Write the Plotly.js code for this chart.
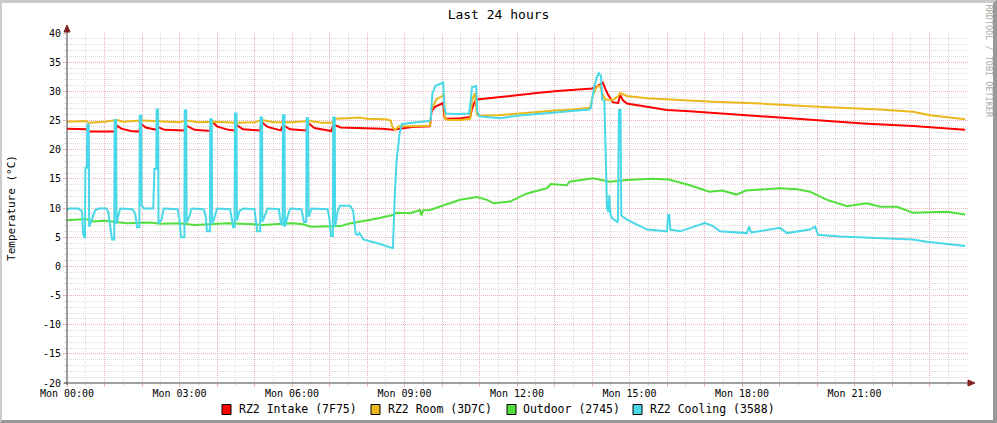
<!DOCTYPE html>
<html><head><meta charset="utf-8">
<script src="https://cdn.plot.ly/plotly-3.0.1.min.js"></script>
<style>
html,body{margin:0;padding:0;background:#fff;}
#wrap{position:relative;width:997px;height:423px;overflow:hidden;}
#chart{position:absolute;left:0;top:0;width:997px;height:423px;}
#frame{position:absolute;left:0;top:0;width:997px;height:423px;box-sizing:border-box;border-top:3px solid #cbcbcb;border-left:2px solid #cbcbcb;border-right:4px solid #999999;border-bottom:3px solid #999999;pointer-events:none;}
</style></head>
<body><div id="wrap"><div id="chart"></div><div id="frame"></div></div>
<script>
// ---------- data (time in hours since Mon 00:00, values in °C) ----------
const seriesNames = ['RZ2 Intake (7F75)', 'RZ2 Room (3D7C)', 'Outdoor (2745)', 'RZ2 Cooling (3588)'];
const seriesColors = ['#FF0000', '#EBB81C', '#52DE3C', '#48D8E8'];

const intakeT = [0.00,0.30,0.52,0.56,1.00,1.30,1.33,1.45,1.70,1.93,1.96,2.10,2.38,2.41,2.60,3.13,3.16,3.40,3.82,3.85,4.00,4.30,4.47,4.50,4.70,5.15,5.18,5.35,5.70,5.76,5.95,6.38,6.42,6.60,7.05,7.10,7.30,7.80,8.40,8.69,8.80,9.20,9.68,9.72,9.80,9.95,10.03,10.07,10.12,10.50,10.75,10.80,10.88,10.93,11.20,11.55,12.00,12.53,13.00,13.33,13.70,14.00,14.15,14.29,14.35,14.43,14.56,14.70,14.75,14.82,14.93,15.47,16.00,16.60,17.23,18.40,19.89,21.23,22.56,23.28,23.95];
const intakeV = [23.6,23.5,23.5,23.1,23.1,23.1,24.1,23.6,23.2,23.1,24.5,23.8,23.4,23.9,23.4,23.3,24.2,23.4,23.2,24.9,24.0,23.4,23.3,24.3,23.5,23.3,24.8,23.9,23.3,24.2,23.5,23.3,24.6,23.7,23.2,24.3,23.8,23.7,23.6,23.4,23.5,23.9,24.0,26.5,27.3,27.8,28.0,25.5,25.3,25.4,25.6,27.0,28.3,28.6,28.8,29.0,29.3,29.7,30.0,30.2,30.3,30.5,30.9,31.5,30.5,29.4,28.1,28.0,29.4,28.5,27.9,27.4,26.8,26.6,26.3,25.8,25.1,24.5,24.05,23.65,23.4];

const roomT = [0.00,0.50,0.60,1.00,1.33,1.50,2.00,2.50,3.00,3.17,3.50,4.00,4.50,5.00,5.20,5.50,6.00,6.45,6.80,7.10,7.15,7.50,7.80,8.00,8.50,8.63,8.68,8.75,8.85,9.20,9.68,9.72,9.85,10.00,10.05,10.08,10.15,10.50,10.75,10.80,10.88,10.93,10.98,11.50,12.00,12.50,13.00,13.50,13.95,14.03,14.13,14.21,14.28,14.35,14.56,14.70,14.75,14.93,15.47,16.08,17.23,18.50,19.89,21.68,22.56,23.01,23.50,23.95];
const roomV = [24.8,24.9,24.6,24.8,25.1,24.8,25.0,24.8,24.7,25.0,24.7,24.8,24.6,24.7,25.1,24.7,24.7,24.9,24.6,24.6,25.3,25.4,25.5,25.3,25.2,25.0,23.9,23.4,24.0,24.0,24.1,27.0,28.6,29.2,29.4,25.3,25.1,25.1,25.3,28.5,29.7,26.0,25.8,25.9,26.2,26.5,26.7,26.9,27.2,29.5,30.8,31.0,29.5,28.6,28.5,29.2,29.7,29.2,28.8,28.6,28.2,27.9,27.4,26.9,26.5,25.9,25.6,25.2];

const outdoorT = [0.00,0.50,0.70,1.00,1.60,2.20,2.50,3.00,3.40,4.00,4.30,5.00,5.20,6.00,6.30,6.50,7.00,7.30,7.50,7.80,8.27,8.69,8.80,9.15,9.41,9.45,9.50,9.68,9.95,10.48,10.93,11.20,11.38,11.81,12.27,12.80,12.90,13.33,13.40,14.03,14.48,14.93,15.60,16.05,16.61,17.13,17.47,17.85,18.11,19.01,19.47,19.81,20.27,20.80,21.33,21.68,22.13,22.56,23.47,23.95];
const outdoorV = [7.9,8.1,7.7,7.8,7.4,7.5,7.3,7.4,7.1,7.3,7.4,7.2,7.1,7.4,7.2,6.8,6.8,6.9,7.3,7.6,8.2,8.8,9.2,9.1,9.65,8.75,9.6,9.65,10.2,11.4,11.9,11.4,10.8,11.1,12.5,13.4,14.1,13.9,14.5,15.1,14.5,14.8,15.0,14.9,13.9,12.8,13.0,12.3,13.0,13.4,13.2,12.8,11.4,10.3,10.8,10.2,10.2,9.2,9.35,8.9];

const coolingT = [0.00,0.05,0.30,0.40,0.43,0.46,0.48,0.49,0.53,0.54,0.58,0.59,0.66,0.75,0.85,1.05,1.10,1.15,1.20,1.26,1.27,1.31,1.32,1.36,1.42,1.75,1.82,1.87,1.93,1.94,1.98,1.99,2.05,2.30,2.33,2.38,2.39,2.43,2.44,2.52,2.58,2.95,3.00,3.04,3.13,3.14,3.18,3.19,3.26,3.32,3.65,3.70,3.73,3.81,3.82,3.86,3.87,3.94,4.00,4.35,4.40,4.43,4.47,4.48,4.52,4.53,4.60,4.70,5.00,5.04,5.07,5.15,5.16,5.20,5.21,5.28,5.35,5.65,5.70,5.75,5.76,5.80,5.81,5.88,5.95,6.25,6.32,6.38,6.39,6.43,6.44,6.52,6.95,7.00,7.04,7.09,7.10,7.14,7.15,7.22,7.28,7.55,7.63,7.70,7.76,7.80,7.90,8.30,8.69,8.74,8.79,8.87,8.93,9.20,9.65,9.70,9.74,9.82,10.03,10.06,10.10,10.40,10.72,10.76,10.80,10.91,10.94,11.00,11.30,11.55,12.00,12.50,13.00,13.50,13.93,13.97,14.05,14.12,14.18,14.24,14.27,14.33,14.36,14.40,14.44,14.46,14.49,14.53,14.69,14.72,14.76,14.78,14.93,15.05,15.20,15.47,16.00,16.03,16.06,16.09,16.35,16.61,16.88,17.01,17.23,17.41,18.13,18.19,18.25,19.01,19.20,19.81,19.95,20.03,20.61,21.68,22.56,22.93,23.47,23.95];
const coolingV = [9.6,9.9,9.9,9.5,5.5,4.8,4.8,16.9,16.9,24.3,24.3,6.8,8.2,9.6,9.9,9.9,9.4,7.3,4.6,4.6,25.1,25.1,7.3,8.5,9.9,9.8,9.0,6.7,6.7,25.8,25.8,10.5,9.9,9.9,16.7,16.7,26.9,26.9,7.3,8.0,9.9,9.8,8.0,5.0,5.0,26.7,26.7,7.5,8.5,9.9,9.8,8.5,6.0,6.0,25.2,25.2,7.3,8.5,9.9,9.8,8.0,6.7,6.7,26.2,26.2,7.8,9.5,9.9,9.8,7.5,6.0,6.0,25.5,25.5,7.6,8.8,9.9,9.8,7.5,7.0,25.9,25.9,6.8,8.5,9.9,9.8,7.6,7.6,25.4,25.4,8.5,9.9,9.8,8.0,5.2,5.2,25.5,25.5,6.8,9.5,10.4,10.4,9.5,5.5,5.4,5.7,4.6,3.9,3.1,12.0,18.2,22.8,24.4,24.6,24.9,25.2,29.5,30.9,31.5,27.5,26.2,26.1,26.2,28.0,30.7,30.9,26.5,25.7,25.5,25.4,25.8,26.1,26.4,26.7,26.9,27.2,30.5,32.3,33.1,32.6,28.6,28.3,18.0,10.0,9.3,12.2,9.0,8.3,7.5,26.8,26.8,8.7,8.0,7.6,7.2,6.3,6.0,8.8,8.8,6.3,6.0,6.6,7.1,7.4,6.9,6.0,5.7,6.8,5.8,6.6,5.7,6.3,6.8,5.4,5.1,4.8,4.6,4.2,3.8,3.5];

const hourTicks = [0,1,2,3,4,5,6,7,8,9,10,11,12,13,14,15,16,17,18,19,20,21,22,23];
const hourLabels = ['Mon 00:00','','','Mon 03:00','','','Mon 06:00','','','Mon 09:00','','','Mon 12:00','','','Mon 15:00','','','Mon 18:00','','','Mon 21:00','',''];
const tempTicks = [-20,-15,-10,-5,0,5,10,15,20,25,30,35,40];
const tempLabels = ['-20','-15','-10','-5','0','5','10','15','20','25','30','35','40'];

// ---------- layout geometry (pixels) ----------
const FONT = '"DejaVu Sans Mono", monospace';
const L = 67, R = 968, T = 33, B = 383;
const W = 997, H = 423;
const px = x => (x - L) / (R - L);
const py = y => (B - y) / (B - T);
const MGRID = '#eab4b4', GRID = '#dcdcdc';

const traces = [
  {x: intakeT, y: intakeV},
  {x: roomT, y: roomV},
  {x: outdoorT, y: outdoorV},
  {x: coolingT, y: coolingV}
].map((d, i) => ({
  type: 'scatter', mode: 'lines', x: d.x, y: d.y, name: seriesNames[i],
  line: {color: seriesColors[i], width: 2}, hoverinfo: 'skip', showlegend: false
}));

// legend (RRDtool style: boxes + text under the plot)
const legendBoxX = [222, 371, 507, 633];
const legendTextX = [237, 386, 521, 648];
const legendY = 409.5;
const shapes = [];
const annotations = [];
seriesNames.forEach((n, i) => {
  shapes.push({type: 'rect', xref: 'paper', yref: 'paper',
    x0: px(legendBoxX[i]), x1: px(legendBoxX[i] + 9), y0: py(legendY - 5), y1: py(legendY + 5),
    fillcolor: seriesColors[i], line: {color: '#000', width: 1}});
  annotations.push({xref: 'paper', yref: 'paper', x: px(legendTextX[i]), y: py(legendY),
    xanchor: 'left', yanchor: 'middle', showarrow: false, text: n,
    font: {family: FONT, size: 11.5, color: '#000'}});
});
// axis lines and arrows
shapes.push({type: 'line', xref: 'paper', yref: 'paper', x0: px(67), x1: px(67), y0: py(385), y1: py(31),
  line: {color: '#404040', width: 1}});
shapes.push({type: 'line', xref: 'paper', yref: 'paper', x0: px(64), x1: px(969), y0: py(383), y1: py(383),
  line: {color: '#404040', width: 1}});
shapes.push({type: 'path', xref: 'paper', yref: 'paper', fillcolor: '#7F1F1F', line: {color: '#7F1F1F', width: 1},
  path: `M ${px(64)},${py(32)} L ${px(70)},${py(32)} L ${px(67)},${py(25)} Z`});
shapes.push({type: 'path', xref: 'paper', yref: 'paper', fillcolor: '#7F1F1F', line: {color: '#7F1F1F', width: 1},
  path: `M ${px(968)},${py(380)} L ${px(968)},${py(386)} L ${px(975)},${py(383)} Z`});
// watermark
annotations.push({xref: 'paper', yref: 'paper', x: px(988.5), y: py(61), xanchor: 'center', yanchor: 'middle',
  showarrow: false, textangle: 90, text: 'RRDTOOL / TOBI OETIKER',
  font: {family: FONT, size: 8.5, color: '#aaaaaa'}});

const layout = {
  width: W, height: H,
  margin: {l: L, r: W - R, t: T, b: H - B, pad: 0},
  paper_bgcolor: '#ffffff', plot_bgcolor: '#ffffff',
  showlegend: false,
  title: {text: 'Last 24 hours', font: {family: FONT, size: 13, color: '#000'},
    x: 0.5, xref: 'container', xanchor: 'center', y: 1 - 14 / H, yref: 'container', yanchor: 'middle'},
  xaxis: {
    range: [0, (R - L) / 37.5], tickmode: 'array', tickvals: hourTicks, ticktext: hourLabels,
    showgrid: true, gridcolor: MGRID, griddash: '1px,1px', gridwidth: 1,
    ticks: 'outside', ticklen: 3, tickcolor: MGRID, showline: false, zeroline: false,
    ticklabelstandoff: -2, automargin: false,
    tickfont: {family: FONT, size: 10, color: '#000'}, fixedrange: true,
    minor: {tickmode: 'linear', dtick: 0.5, tick0: 0, showgrid: true, gridcolor: GRID, griddash: '1px,1px', ticks: 'outside', ticklen: 2, tickcolor: GRID}
  },
  yaxis: {
    range: [-20, 40], tickmode: 'array', tickvals: tempTicks, ticktext: tempLabels,
    showgrid: true, gridcolor: MGRID, griddash: '1px,1px', gridwidth: 1,
    ticks: 'outside', ticklen: 3, tickcolor: MGRID, showline: false, zeroline: false, automargin: false,
    tickfont: {family: FONT, size: 10, color: '#000'}, fixedrange: true,
    title: {text: 'Temperature (°C)', font: {family: FONT, size: 11, color: '#000'}, standoff: 25},
    minor: {tickmode: 'linear', dtick: 1, tick0: 0, showgrid: true, gridcolor: GRID, griddash: '1px,1px', ticks: 'outside', ticklen: 2, tickcolor: GRID}
  },
  shapes: shapes,
  annotations: annotations
};

Plotly.newPlot('chart', traces, layout, {staticPlot: true, displayModeBar: false});
</script></body></html>
